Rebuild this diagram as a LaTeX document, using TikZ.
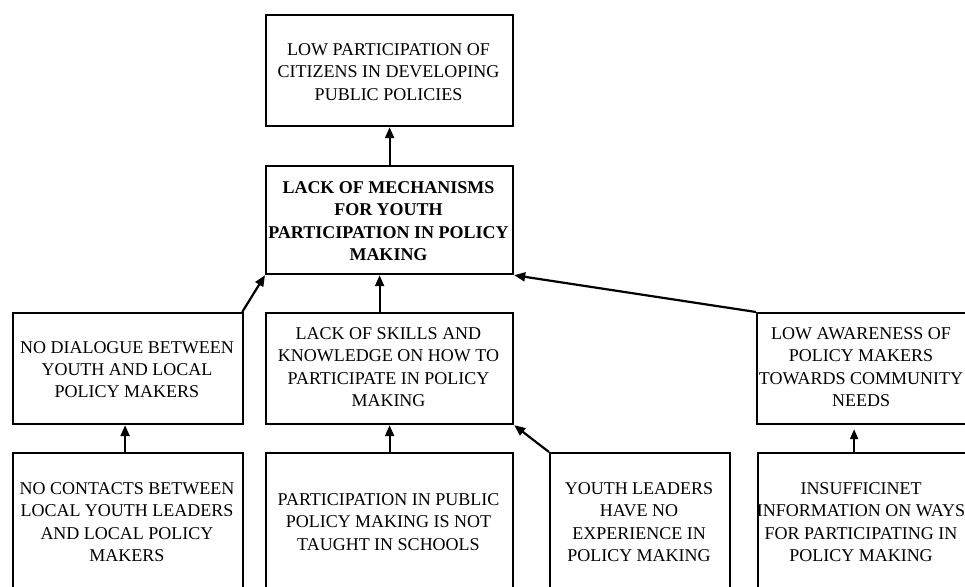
\documentclass[tikz,border=0pt]{standalone}
\usepackage{fontspec}
\setmainfont{Liberation Serif}
\usetikzlibrary{arrows.meta,calc}
\begin{document}
\begin{tikzpicture}[x=1pt,y=-1pt,
  box/.style={draw,line width=2.2pt,rectangle,inner sep=0pt,anchor=north west},
  txt/.style={align=center,font=\fontsize{18}{22.3}\selectfont,inner sep=0pt},
  arr/.style={-{Triangle[length=11pt,width=9pt]},line width=2.2pt},
  thinarr/.style={-{Triangle[length=10pt,width=8pt]},line width=1.8pt}]
\useasboundingbox (0,0) rectangle (965,586);
\clip (0,0) rectangle (965,586);

% boxes
\node[box,minimum width=247pt,minimum height=111pt] (top) at (265,14) {};
\node[box,minimum width=247pt,minimum height=108pt] (cb) at (265,165) {};
\node[box,minimum width=230pt,minimum height=111pt] (lm) at (12,312) {};
\node[box,minimum width=247pt,minimum height=111pt] (mm) at (265,312) {};
\node[box,minimum width=211pt,minimum height=111pt] (rm) at (756,312) {};
\node[box,minimum width=230pt,minimum height=160pt] (lb) at (12,452) {};
\node[box,minimum width=247pt,minimum height=160pt] (mb) at (265,452) {};
\node[box,minimum width=180pt,minimum height=160pt] (yb) at (549,452) {};
\node[box,minimum width=210pt,minimum height=160pt] (ib) at (757,452) {};

% texts
\node[txt] (ttop) at (388.5,72) {LOW PARTICIPATION OF\\CITIZENS IN DEVELOPING\\PUBLIC POLICIES};
\node[txt,font=\fontsize{18}{22.3}\selectfont\bfseries] (tcb) at (388.5,221) {LACK OF MECHANISMS\\FOR YOUTH\\PARTICIPATION IN POLICY\\MAKING};
\node[txt] (tlm) at (127,369.5) {NO DIALOGUE BETWEEN\\YOUTH AND LOCAL\\POLICY MAKERS};
\node[txt] (tmm) at (388.5,367) {LACK OF SKILLS AND\\KNOWLEDGE ON HOW TO\\PARTICIPATE IN POLICY\\MAKING};
\node[txt] (trm) at (861,367) {LOW AWARENESS OF\\POLICY MAKERS\\TOWARDS COMMUNITY\\NEEDS};
\node[txt] (tlb) at (127,522) {NO CONTACTS BETWEEN\\LOCAL YOUTH LEADERS\\AND LOCAL POLICY\\MAKERS};
\node[txt] (tmb) at (388.5,522) {PARTICIPATION IN PUBLIC\\POLICY MAKING IS NOT\\TAUGHT IN SCHOOLS};
\node[txt] (tyb) at (639,522) {YOUTH LEADERS\\HAVE NO\\EXPERIENCE IN\\POLICY MAKING};
\node[txt] (tib) at (861,522) {INSUFFICINET\\INFORMATION ON WAYS\\FOR PARTICIPATING IN\\POLICY MAKING};

% connectors
\draw[arr] (cb.north) -- (top.south);
\draw[arr] ([xshift=-2pt]lm.north east) -- (cb.south west);
\draw[arr] ([xshift=-10pt]mm.north) -- ([xshift=-10pt]mm.north |- cb.south);
\draw[arr] (rm.north west) -- (cb.south east);
\draw[arr] ([xshift=-3pt]lb.north) -- ([xshift=-3pt]lb.north |- lm.south);
\draw[arr] (mb.north) -- (mm.south);
\draw[arr] (yb.north west) -- (mm.south east);
\draw[thinarr] ([xshift=-9pt]ib.north) -- ([xshift=-9pt,yshift=-4pt]ib.north |- rm.south);
\end{tikzpicture}
\end{document}
